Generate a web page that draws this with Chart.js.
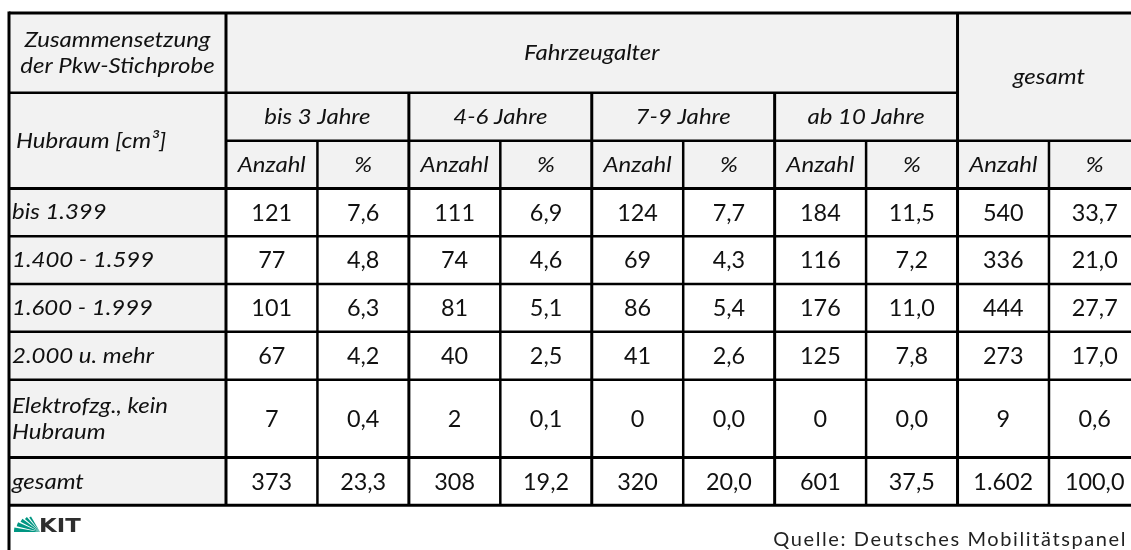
<!DOCTYPE html>
<html>
<head>
<meta charset="utf-8">
<script src="https://cdn.jsdelivr.net/npm/chart.js@4.4.1/dist/chart.umd.min.js"></script>
<style>
  html, body { margin: 0; padding: 0; background: #fff; }
  canvas { display: block; }
</style>
</head>
<body>
<canvas id="tbl" width="1131" height="550"></canvas>
<script>
// table content
const rowLabels = ["bis 1.399", "1.400 - 1.599", "1.600 - 1.999", "2.000 u. mehr", "Elektrofzg., kein\nHubraum", "gesamt"];
const ageGroups = ["bis 3 Jahre", "4-6 Jahre", "7-9 Jahre", "ab 10 Jahre"];
const countBis3 = [121, 77, 101, 67, 7, 373];
const pctBis3 = [7.6, 4.8, 6.3, 4.2, 0.4, 23.3];
const count4to6 = [111, 74, 81, 40, 2, 308];
const pct4to6 = [6.9, 4.6, 5.1, 2.5, 0.1, 19.2];
const count7to9 = [124, 69, 86, 41, 0, 320];
const pct7to9 = [7.7, 4.3, 5.4, 2.6, 0.0, 20.0];
const countAb10 = [184, 116, 176, 125, 0, 601];
const pctAb10 = [11.5, 7.2, 11.0, 7.8, 0.0, 37.5];
const countTotal = [540, 336, 444, 273, 9, 1602];
const pctTotal = [33.7, 21.0, 27.7, 17.0, 0.6, 100.0];
const subHeads = ["Anzahl", "%"];
const cornerTitle = "Zusammensetzung\nder Pkw-Stichprobe";
const rowTitle = "Hubraum [cm³]";
const groupTitle = "Fahrzeugalter";
const totalTitle = "gesamt";
const sourceText = "Quelle: Deutsches Mobilitätspanel";

const columns = [countBis3, pctBis3, count4to6, pct4to6, count7to9, pct7to9, countAb10, pctAb10, countTotal, pctTotal];

// grid in scale units: x = columns, y = rows
const firstColW = 2.373;
const colEdges = [0];
for (let i = 0; i <= columns.length; i++) colEdges.push(firstColW + i);
const rowEdges = [0, 1.67, 2.67, 3.67, 4.67, 5.67, 6.67, 7.67, 9.3, 10.3];

const fmtInt = v => String(v).replace(/\B(?=(\d{3})+(?!\d))/g, ".");
const fmtPct = v => v.toFixed(1).replace(".", ",");

const cellPoints = [];
columns.forEach((col, c) => {
  col.forEach((v, r) => {
    cellPoints.push({
      x: (colEdges[c + 1] + colEdges[c + 2]) / 2,
      y: (rowEdges[r + 3] + rowEdges[r + 4]) / 2,
      text: c % 2 === 0 ? fmtInt(v) : fmtPct(v)
    });
  });
});

const ITAL = "italic 22px Lato";
const NORM = "22.5px Lato";
const GREY = "#f2f2f2";
const STRETCH = 1.09;

// text is a bit wider than Lato, so stretch horizontally
function drawText(ctx, txt, x, y, align, sx) {
  const lines = txt.split("\n");
  const lh = 26;
  ctx.save();
  ctx.translate(x, y);
  ctx.scale(sx || STRETCH, 1);
  ctx.textAlign = align;
  lines.forEach((l, i) => ctx.fillText(l, 0, (i - (lines.length - 1) / 2) * lh));
  ctx.restore();
}

const tablePlugin = {
  id: "tablePlugin",
  beforeDatasetsDraw(chart) {
    const ctx = chart.ctx;
    const xs = chart.scales.x, ys = chart.scales.y;
    const X = v => xs.getPixelForValue(v), Y = v => ys.getPixelForValue(v);
    const nC = colEdges.length - 1;
    ctx.save();
    // grey header + first column
    ctx.fillStyle = GREY;
    ctx.fillRect(X(0), Y(0), X(colEdges[nC]) - X(0), Y(rowEdges[3]) - Y(0));
    ctx.fillRect(X(0), Y(rowEdges[3]), X(colEdges[1]) - X(0), Y(rowEdges[9]) - Y(rowEdges[3]));

    ctx.strokeStyle = "#000";
    const hline = (x0, x1, y, w) => { ctx.lineWidth = w; ctx.beginPath(); ctx.moveTo(X(x0), Y(y)); ctx.lineTo(X(x1), Y(y)); ctx.stroke(); };
    const vline = (x, y0, y1, w) => { ctx.lineWidth = w; ctx.beginPath(); ctx.moveTo(X(x), Y(y0)); ctx.lineTo(X(x), Y(y1)); ctx.stroke(); };
    const xEnd = colEdges[nC];
    // horizontal lines
    hline(0, xEnd, rowEdges[0], 3);
    hline(0, colEdges[9], rowEdges[1], 2.5);
    hline(colEdges[1], xEnd, rowEdges[2], 2.5);
    hline(0, xEnd, rowEdges[3], 3);
    for (let r = 4; r <= 9; r++) hline(0, xEnd, rowEdges[r], r === 8 || r === 9 ? 3 : 2.5);
    // vertical lines (left border runs on past the table)
    ctx.lineWidth = 3;
    ctx.beginPath(); ctx.moveTo(X(0), Y(0) - 1.5); ctx.lineTo(X(0), chart.height); ctx.stroke();
    vline(colEdges[1], rowEdges[0], rowEdges[9], 3);
    vline(colEdges[9], rowEdges[0], rowEdges[9], 3);
    [3, 5, 7].forEach(c => vline(colEdges[c], rowEdges[1], rowEdges[9], 3));
    [2, 4, 6, 8, 10].forEach(c => vline(colEdges[c], rowEdges[2], rowEdges[9], 2.5));

    // header texts
    ctx.fillStyle = "#111";
    ctx.textBaseline = "middle";
    ctx.font = ITAL;
    drawText(ctx, cornerTitle, X(colEdges[1] / 2), Y(rowEdges[1] / 2), "center");
    drawText(ctx, rowTitle, X(0) + 7, Y((rowEdges[1] + rowEdges[3]) / 2), "left");
    drawText(ctx, groupTitle, X((colEdges[1] + colEdges[9]) / 2), Y(rowEdges[1] / 2), "center");
    drawText(ctx, totalTitle, X((colEdges[9] + colEdges[11]) / 2), Y(rowEdges[2] / 2), "center");
    ageGroups.forEach((g, i) => {
      drawText(ctx, g, X((colEdges[1 + 2 * i] + colEdges[3 + 2 * i]) / 2), Y((rowEdges[1] + rowEdges[2]) / 2), "center");
    });
    for (let c = 0; c < columns.length; c++) {
      drawText(ctx, subHeads[c % 2], X((colEdges[c + 1] + colEdges[c + 2]) / 2), Y((rowEdges[2] + rowEdges[3]) / 2), "center");
    }
    rowLabels.forEach((l, r) => {
      drawText(ctx, l, X(0) + 3, Y((rowEdges[r + 3] + rowEdges[r + 4]) / 2), "left");
    });

    // footer
    ctx.font = "20px Lato";
    ctx.letterSpacing = "1.6px";
    ctx.textAlign = "right";
    ctx.textBaseline = "alphabetic";
    ctx.fillStyle = "#222";
    ctx.fillText(sourceText, chart.width - 4, 546);
    ctx.letterSpacing = "0px";

    // KIT logo
    const ox = 40, oy = 532;
    ctx.fillStyle = "#009682";
    const rays = [[180, 190], [194, 204], [208, 217], [221, 229], [233, 240]];
    rays.forEach(([a0, a1], i) => {
      const r = 26 - i * 2;
      ctx.beginPath();
      ctx.moveTo(ox, oy);
      ctx.arc(ox, oy, r, a0 * Math.PI / 180, a1 * Math.PI / 180);
      ctx.closePath();
      ctx.fill();
    });
    ctx.fillStyle = "#2e2e2e";
    ctx.font = "bold 19px 'DejaVu Sans'";
    ctx.save();
    ctx.translate(39, 532);
    ctx.scale(1.2, 1);
    ctx.textAlign = "left";
    ctx.fillText("KIT", 0, 0);
    ctx.restore();
    ctx.restore();
  },
  afterDatasetsDraw(chart) {
    const ctx = chart.ctx;
    const meta = chart.getDatasetMeta(0);
    ctx.save();
    ctx.font = NORM;
    ctx.fillStyle = "#111";
    ctx.textBaseline = "middle";
    meta.data.forEach((el, i) => drawText(ctx, cellPoints[i].text, el.x, el.y + 1, "center", 1.04));
    ctx.restore();
  }
};

new Chart(document.getElementById("tbl"), {
  type: "scatter",
  data: {
    datasets: [{
      data: cellPoints,
      pointRadius: 0,
      pointHoverRadius: 0
    }]
  },
  options: {
    responsive: false,
    animation: false,
    events: [],
    layout: { padding: 0 },
    plugins: { legend: { display: false }, tooltip: { enabled: false } },
    scales: {
      x: { type: "linear", display: false, min: -0.0984, max: 12.27 },
      y: { type: "linear", display: false, reverse: true, min: -0.272, max: 11.234 }
    }
  },
  plugins: [tablePlugin]
});
</script>
</body>
</html>
